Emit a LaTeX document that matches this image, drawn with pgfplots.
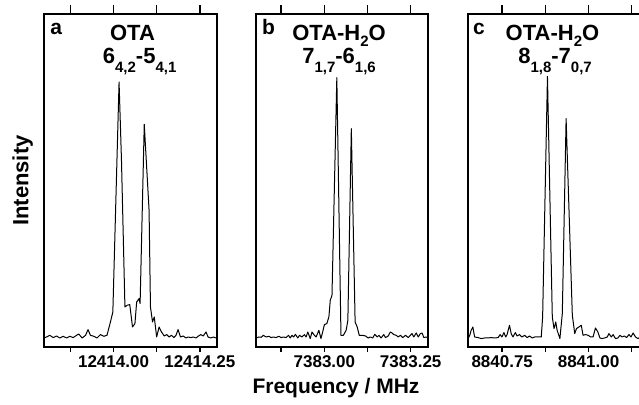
\documentclass[border=0pt]{standalone}
\usepackage{fontspec}
\setmainfont{Liberation Sans}
\usepackage{pgfplots}
\pgfplotsset{compat=1.18}

% frequencies are ~1e4 MHz over a 0.5 MHz window: shift them exactly with dimen arithmetic
\makeatletter
\pgfplotsset{
  mhz shift/.style={x coord trafo/.code={\dimen@=##1pt\advance\dimen@ by -#1pt\edef\pgfmathresult{\strip@pt\dimen@}}},
}
\makeatother

\newcommand\sub[2][-4.7pt]{\raisebox{#1}{\fontsize{7.5}{8}\selectfont #2}}
\newcommand\labfont{\fontsize{11}{13}\selectfont\bfseries}

\pgfplotsset{
  panel/.style={
    scale only axis, anchor=south west,
    height=166.65pt,
    ymin=0, ymax=333.3, ytick=\empty,
    axis line style={line width=1pt},
    tick align=outside, xtick pos=bottom,
    major tick length=2.3pt,
    major tick style={black, line width=0.75pt},
    xticklabel style={font=\fontsize{8.5}{10}\selectfont\bfseries, inner sep=1.8pt},
    clip mode=individual,
  },
  topticks/.style={panel, xtick pos=top, major tick length=4.5pt,
    xticklabels={,,,}, axis line style={draw=none}},
  spec/.style={black, line width=0.5pt, mark=none, line join=round},
}
\tikzset{
  title/.style={anchor=base, font=\labfont, inner sep=0pt},
  letter/.style={anchor=base west, font=\fontsize{10.5}{12}\selectfont\bfseries, inner sep=0pt},
}

\begin{document}
\begin{tikzpicture}
\useasboundingbox (0,0) rectangle (319.5pt,202.5pt);
\clip (0,0) rectangle (319.5pt,202.5pt);

% ---------- panel a ----------
\begin{axis}[panel, mhz shift=12414, at={(21.75pt,28.85pt)}, width=86.6pt,
  xmin=12413.797, xmax=12414.299,
  xtick={12413.875,12414,12414.125,12414.25},
  xticklabels={,12414.00,,12414.25}]
\addplot[spec] table {
12413.798 9.3
12413.806 10.3
12413.815 12
12413.825 9.7
12413.835 11.3
12413.844 9.3
12413.854 11
12413.864 9.3
12413.873 11
12413.883 9.7
12413.893 12
12413.899 13.3
12413.909 9.3
12413.919 12
12413.926 17.7
12413.933 12
12413.943 11
12413.952 9.3
12413.962 12.7
12413.972 11
12413.981 12
12413.991 25.3
12413.998 35.3
12414.016 265.3
12414.023 187
12414.033 40.3
12414.039 42
12414.047 42.7
12414.055 20.3
12414.062 23.7
12414.067 45.3
12414.074 48.7
12414.077 43.7
12414.089 223
12414.103 137
12414.107 40.3
12414.113 25.3
12414.118 30.3
12414.125 10.3
12414.132 20.3
12414.139 15.3
12414.147 11.3
12414.154 12.7
12414.161 10.3
12414.168 12
12414.175 9.7
12414.181 12
12414.187 17.7
12414.194 10.3
12414.202 11.3
12414.210 9.3
12414.216 10.3
12414.224 9.7
12414.231 10.3
12414.239 9.3
12414.245 11
12414.253 12.7
12414.260 11.3
12414.268 15.3
12414.274 10.3
12414.282 9.3
12414.289 10.3
12414.297 9.3
};
\node[letter] at ([xshift=3.25pt,yshift=-10.5pt]rel axis cs:0,1) {a};
\node[title] at ([yshift=-13.35pt]rel axis cs:0.514,1) {OTA};
\node[title] at ([yshift=-24.65pt]rel axis cs:0.555,1) {6\sub{4,2}-5\sub{4,1}};
\node[rotate=90, anchor=base, font=\labfont] at ([xshift=-7.6pt]rel axis cs:0,0.5) {Intensity};
\end{axis}
\begin{axis}[topticks, mhz shift=12414, at={(21.75pt,28.85pt)}, width=86.6pt,
  xmin=12413.797, xmax=12414.299,
  xtick={12413.875,12414,12414.125,12414.25}]
\end{axis}

% ---------- panel b ----------
\begin{axis}[panel, mhz shift=7383, at={(127.85pt,28.85pt)}, width=86.3pt,
  xmin=7382.801, xmax=7383.301,
  xtick={7382.875,7383,7383.125,7383.25},
  xticklabels={,7383.00,,7383.25}]
\addplot[spec] table {
7382.802 9.3
7382.810 10.3
7382.817 10
7382.823 12
7382.831 10.3
7382.839 11
7382.846 9.7
7382.852 10.3
7382.860 9.7
7382.868 11
7382.875 9.7
7382.881 10.3
7382.889 9.7
7382.896 12
7382.901 9.3
7382.906 12
7382.911 10.3
7382.916 13
7382.923 9.3
7382.928 12
7382.935 10.3
7382.942 12.7
7382.947 10.3
7382.952 15.3
7382.959 8.7
7382.964 15.3
7382.971 12
7382.976 10.3
7382.984 17
7382.990 8.7
7382.995 15.3
7383.000 22.7
7383.007 23.7
7383.013 30.3
7383.017 47
7383.022 52
7383.036 269.7
7383.048 12
7383.055 12
7383.063 17
7383.068 27
7383.078 218.7
7383.089 25.3
7383.095 20.3
7383.101 12
7383.111 12
7383.119 11.3
7383.127 9.3
7383.133 10.3
7383.140 9.3
7383.146 13
7383.153 10.3
7383.158 12
7383.164 9.3
7383.172 12.7
7383.177 9.7
7383.185 11.3
7383.191 15.3
7383.196 14.3
7383.201 12.7
7383.208 12
7383.214 10.3
7383.220 12
7383.227 9.7
7383.235 12
7383.243 9.7
7383.249 12
7383.254 13.7
7383.259 10.3
7383.266 14.3
7383.272 10.3
7383.278 13.7
7383.283 14.3
7383.288 9.7
7383.295 10.3
7383.301 9.3
};
\node[letter] at ([xshift=3pt,yshift=-10.5pt]rel axis cs:0,1) {b};
\node[title] at ([yshift=-13.35pt]rel axis cs:0.483,1) {OTA-H\sub[-3pt]{2}O};
\node[title] at ([yshift=-24.65pt]rel axis cs:0.483,1) {7\sub{1,7}-6\sub{1,6}};
\node[anchor=base, font=\fontsize{10.5}{12}\selectfont\bfseries] at ([xshift=-3pt,yshift=-23pt]rel axis cs:0.5,0) {Frequency / MHz};
\end{axis}
\begin{axis}[topticks, mhz shift=7383, at={(127.85pt,28.85pt)}, width=86.3pt,
  xmin=7382.801, xmax=7383.301,
  xtick={7382.875,7383,7383.125,7383.25}]
\end{axis}

% ---------- panel c ----------
\begin{axis}[panel, mhz shift=8840, at={(233.85pt,28.85pt)}, width=86.5pt,
  xmin=8840.650, xmax=8841.151,
  xtick={8840.75,8840.875,8841,8841.125},
  xticklabels={8840.75,,8841.00,}]
\addplot[spec] table {
8840.651 8.7
8840.656 12
8840.660 17
8840.665 20.3
8840.670 10.3
8840.680 9.7
8840.689 8.7
8840.699 9.3
8840.709 9.3
8840.718 9.7
8840.728 9.3
8840.738 9.7
8840.744 12.7
8840.749 10.3
8840.755 14.7
8840.760 10.3
8840.764 12.7
8840.771 22
8840.776 13.7
8840.781 10.3
8840.788 14.7
8840.793 11.3
8840.800 12.7
8840.807 10.3
8840.815 12
8840.822 9.7
8840.829 11.3
8840.837 9.3
8840.844 10.3
8840.853 10.3
8840.863 10.3
8840.867 30
8840.881 271
8840.895 30.3
8840.900 18.7
8840.905 25.3
8840.909 17
8840.917 8.7
8840.924 33.7
8840.935 228.7
8840.953 32
8840.960 13.7
8840.965 18.7
8840.972 20.3
8840.979 22
8840.984 12
8840.991 12.7
8840.999 12
8841.006 10.3
8841.013 10.3
8841.020 19.3
8841.027 15.3
8841.033 9.3
8841.039 8.7
8841.046 9.3
8841.054 10.3
8841.059 13.7
8841.066 10.3
8841.071 12.7
8841.078 8.7
8841.085 9.3
8841.091 12
8841.097 10.3
8841.104 11.3
8841.110 9.7
8841.117 12.7
8841.123 10.3
8841.129 14.3
8841.136 10.3
8841.143 8.7
8841.149 10
};
\node[letter] at ([xshift=2.5pt,yshift=-10.5pt]rel axis cs:0,1) {c};
\node[title] at ([yshift=-13.35pt]rel axis cs:0.49,1) {OTA-H\sub[-3pt]{2}O};
\node[title] at ([yshift=-24.65pt]rel axis cs:0.505,1) {8\sub{1,8}-7\sub{0,7}};
\end{axis}
\begin{axis}[topticks, mhz shift=8840, at={(233.85pt,28.85pt)}, width=86.5pt,
  xmin=8840.650, xmax=8841.151,
  xtick={8840.75,8840.875,8841,8841.125}]
\end{axis}
\end{tikzpicture}
\end{document}
